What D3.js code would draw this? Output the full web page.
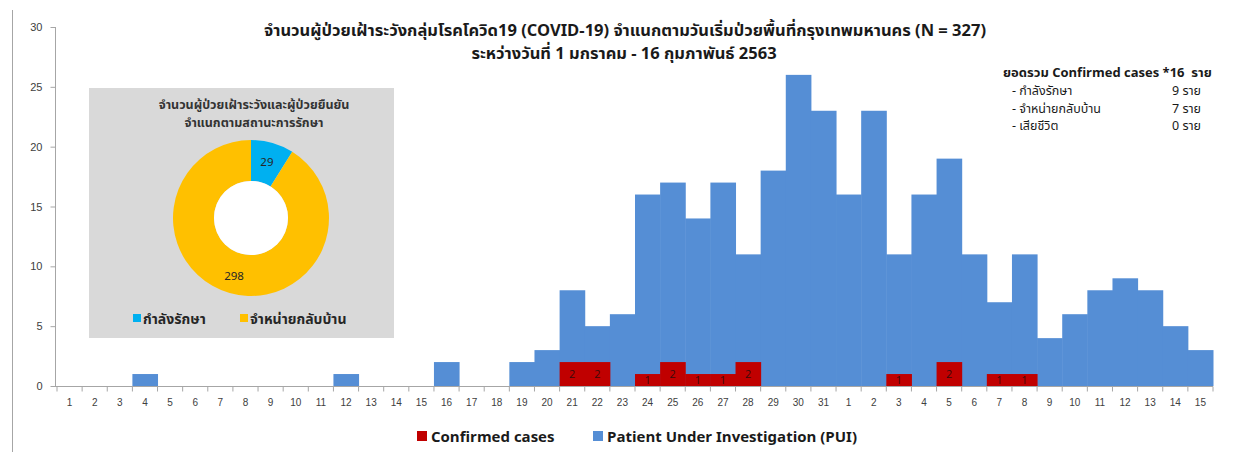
<!DOCTYPE html>
<html>
<head>
<meta charset="utf-8">
<script src="https://cdn.jsdelivr.net/npm/d3@7"></script>
<style>
  body { margin: 0; background: #fff; }
  svg { font-family: Tahoma, "Noto Sans Thai", "Noto Sans", "DejaVu Sans", sans-serif; }
  text { white-space: pre; }
</style>
</head>
<body>
<svg id="chart"></svg>
<script>
// day labels: Jan 1..31, Feb 1..15
var days = ["1","2","3","4","5","6","7","8","9","10","11","12","13","14","15","16","17","18","19","20",
            "21","22","23","24","25","26","27","28","29","30","31",
            "1","2","3","4","5","6","7","8","9","10","11","12","13","14","15"];

// Patient Under Investigation per day
var pui = [0,0,0,1,0,0,0,0,0,0,0,1,0,0,0,2,0,0,2,3,
           8,5,6,16,17,14,17,11,18,26,23,
           16,23,11,16,19,11,7,11,4,6,8,9,8,5,3];

// confirmed cases per day
var confirmed = [0,0,0,0,0,0,0,0,0,0,0,0,0,0,0,0,0,0,0,0,
                 2,2,0,1,2,1,1,2,0,0,0,
                 0,0,1,0,2,0,1,1,0,0,0,0,0,0,0];

var yTicks = [0, 5, 10, 15, 20, 25, 30];

// doughnut inset
var pieLabels = ["กำลังรักษา", "จำหน่ายกลับบ้าน"];
var pieValues = [29, 298];

var summaryRows = [
    ["- กำลังรักษา", "9 ราย"],
    ["- จำหน่ายกลับบ้าน", "7 ราย"],
    ["- เสียชีวิต", "0 ราย"]
];

var width = 1248, height = 455;
var blue = "#558ed5", red = "#c00000";
var pieColors = ["#00b0f0", "#ffc000"];

var svg = d3.select("#chart").attr("width", width).attr("height", height);

// left frame line
svg.append("line")
    .attr("x1", 12.5).attr("x2", 12.5).attr("y1", 10).attr("y2", 452)
    .attr("stroke", "#a6a6a6");

var x = d3.scaleBand()
    .domain(d3.range(days.length))
    .range([57, 1213])
    .padding(0);

var y = d3.scaleLinear()
    .domain([0, 30])
    .range([386, 27]);

// PUI bars
svg.append("g").selectAll("rect")
    .data(pui)
    .enter()
    .append("rect")
      .attr("x", (d, i) => x(i))
      .attr("y", d => y(d))
      .attr("width", x.bandwidth() + 0.5)
      .attr("height", d => y(0) - y(d))
      .attr("fill", blue);

// confirmed bars, overlapped on same band
svg.append("g").selectAll("rect")
    .data(confirmed)
    .enter()
    .append("rect")
      .attr("x", (d, i) => x(i))
      .attr("y", d => y(d))
      .attr("width", x.bandwidth() + 0.5)
      .attr("height", d => y(0) - y(d))
      .attr("fill", red);

svg.append("g").selectAll("text")
    .data(confirmed.map((d, i) => ({v: d, i: i})).filter(d => d.v > 0))
    .enter()
    .append("text")
      .attr("x", d => x(d.i) + x.bandwidth() / 2)
      .attr("y", d => (y(d.v) + y(0)) / 2 + 4)
      .attr("text-anchor", "middle")
      .attr("font-size", 11)
      .attr("font-family", "'Open Sans', sans-serif")
      .attr("fill", "#3b0a0a")
      .text(d => d.v);

// y axis
var yAxis = d3.axisLeft(y).tickValues(yTicks).tickSize(5).tickPadding(8);
var gy = svg.append("g")
    .attr("transform", "translate(55.5,0)")
    .call(yAxis);
gy.select(".domain").attr("stroke", "#a6a6a6").attr("d", `M0,${y(30)}V${y(0)}`);
gy.selectAll(".tick line").attr("stroke", "#a6a6a6");
gy.selectAll(".tick text").attr("font-size", 11).attr("fill", "#404040")
    .attr("font-family", "inherit");

// x axis
var xAxis = d3.axisBottom(x).tickFormat(i => days[i]).tickSize(0).tickPadding(12);
var gx = svg.append("g")
    .attr("transform", `translate(0,${y(0) + 0.5})`)
    .call(xAxis);
gx.select(".domain").attr("stroke", "#a6a6a6").attr("d", "M55,0H1213");
gx.selectAll(".tick text").attr("font-size", 10).attr("fill", "#404040")
    .attr("font-family", "inherit");
// tick marks between categories
gx.append("g").selectAll("line")
    .data(d3.range(days.length + 1))
    .enter()
    .append("line")
      .attr("x1", i => i < days.length ? x(i) : x(days.length - 1) + x.bandwidth())
      .attr("x2", i => i < days.length ? x(i) : x(days.length - 1) + x.bandwidth())
      .attr("y1", 0).attr("y2", 5)
      .attr("stroke", "#a6a6a6");

// title
svg.append("text")
    .attr("x", 625).attr("y", 36)
    .attr("text-anchor", "middle")
    .attr("font-size", 16.5).attr("font-weight", "bold").attr("fill", "#1a1a1a")
    .text("จำนวนผู้ป่วยเฝ้าระวังกลุ่มโรคโควิด19 (COVID-19) จำแนกตามวันเริ่มป่วยพื้นที่กรุงเทพมหานคร (N = 327)");
svg.append("text")
    .attr("x", 624).attr("y", 59)
    .attr("text-anchor", "middle")
    .attr("font-size", 16.5).attr("font-weight", "bold").attr("fill", "#1a1a1a")
    .text("ระหว่างวันที่ 1 มกราคม - 16 กุมภาพันธ์ 2563");

// summary box top right
var sum = svg.append("g").attr("font-size", 12.5).attr("fill", "#1a1a1a");
sum.append("text")
    .attr("x", 1003).attr("y", 77)
    .attr("font-size", 13)
    .attr("font-weight", "bold")
    .text("ยอดรวม Confirmed cases *16  ราย");
summaryRows.forEach(function(r, i) {
    sum.append("text").attr("x", 1012).attr("y", 95 + i * 17.5).text(r[0]);
    sum.append("text").attr("x", 1201).attr("y", 95 + i * 17.5)
        .attr("text-anchor", "end").text(r[1]);
});

// doughnut inset
var inset = svg.append("g");
inset.append("rect")
    .attr("x", 89).attr("y", 88).attr("width", 305).attr("height", 250)
    .attr("fill", "#d9d9d9");
inset.append("text")
    .attr("x", 254).attr("y", 109).attr("text-anchor", "middle")
    .attr("font-size", 12.5).attr("font-weight", "bold").attr("fill", "#333")
    .text("จำนวนผู้ป่วยเฝ้าระวังและผู้ป่วยยืนยัน");
inset.append("text")
    .attr("x", 254).attr("y", 127).attr("text-anchor", "middle")
    .attr("font-size", 12.5).attr("font-weight", "bold").attr("fill", "#333")
    .text("จำแนกตามสถานะการรักษา");

var pie = d3.pie().sort(null)(pieValues);
var arc = d3.arc().innerRadius(37).outerRadius(78);
var labelArc = d3.arc().innerRadius(58).outerRadius(58);
var pg = inset.append("g").attr("transform", "translate(251,218)");
pg.selectAll("path")
    .data(pie)
    .enter()
    .append("path")
      .attr("d", arc)
      .attr("fill", (d, i) => pieColors[i]);
pg.append("circle").attr("r", 37).attr("fill", "#ffffff");
pg.selectAll("text")
    .data(pie)
    .enter()
    .append("text")
      .attr("transform", function(d, i) {
          if (i === 1) return "translate(-17,58)";
          var c = labelArc.centroid(d);
          return `translate(${c[0]},${c[1]})`;
      })
      .attr("dy", "0.35em")
      .attr("text-anchor", "middle")
      .attr("font-size", 11.5).attr("fill", "#262626")
      .text(d => d.data);

var lx = [133, 240];
pieLabels.forEach(function(l, i) {
    inset.append("rect")
        .attr("x", lx[i]).attr("y", 314).attr("width", 8).attr("height", 8)
        .attr("fill", pieColors[i]);
    inset.append("text")
        .attr("x", lx[i] + 10).attr("y", 324)
        .attr("font-size", 14).attr("font-weight", "bold").attr("fill", "#262626")
        .text(l);
});

// bottom legend
var legend = [["Confirmed cases", red, 417], ["Patient Under Investigation (PUI)", blue, 593]];
legend.forEach(function(l) {
    svg.append("rect")
        .attr("x", l[2]).attr("y", 431).attr("width", 10).attr("height", 10)
        .attr("fill", l[1]);
    svg.append("text")
        .attr("x", l[2] + 14).attr("y", 442)
        .attr("font-size", 15).attr("font-weight", "bold").attr("fill", "#1a1a1a")
        .text(l[0]);
});
</script>
</body>
</html>
